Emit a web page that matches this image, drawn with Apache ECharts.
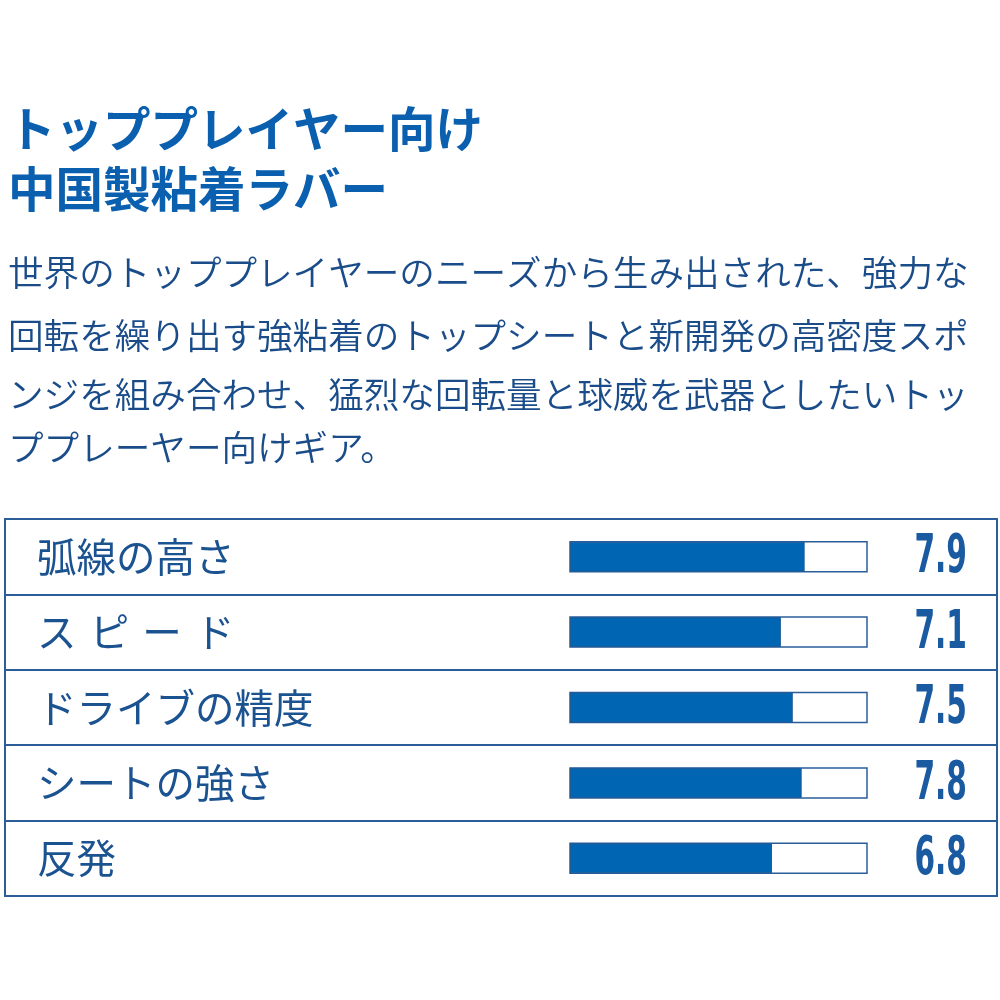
<!DOCTYPE html>
<html>
<head>
<meta charset="utf-8">
<script src="https://cdn.jsdelivr.net/npm/echarts@6/dist/echarts.min.js"></script>
<style>
html,body{margin:0;padding:0;background:#fff;}
#chart{width:1000px;height:1000px;}
</style>
</head>
<body>
<div id="chart"></div>
<script>
// ---- data ----
var titleLines = ['トッププレイヤー向け', '中国製粘着ラバー'];
var descLines = [
  '世界のトッププレイヤーのニーズから生み出された、強力な',
  '回転を繰り出す強粘着のトップシートと新開発の高密度スポ',
  'ンジを組み合わせ、猛烈な回転量と球威を武器としたいトッ',
  'ププレーヤー向けギア。'
];
var categories = ['弧線の高さ', 'ス\u2004ピ\u2004ー\u2004ド', 'ドライブの精度', 'シートの強さ', '反発'];
var values = [7.9, 7.1, 7.5, 7.8, 6.8];
var scaleMax = 10;

// ---- styles ----
var FONT = '"Noto Sans CJK JP", "Noto Sans", sans-serif';
var titleColor = '#0a5fae';
var textColor = '#1a4c8a';
var labelColor = '#1b5290';
var lineColor = '#2b5d99';
var barColor = '#0066b3';

var chart = echarts.init(document.getElementById('chart'), null, {renderer: 'canvas'});

var graphics = [];
var titleY = [133, 193];
titleLines.forEach(function (t, i) {
  graphics.push({
    type: 'text', left: 8, top: titleY[i] - 28,
    style: {text: t, fill: titleColor, font: 'bold 47.5px ' + FONT}
  });
});
var descY = [276, 339, 398, 451];
descLines.forEach(function (t, i) {
  graphics.push({
    type: 'text', left: 8, top: descY[i] - 21,
    style: {text: t, fill: textColor, font: '350 35.6px ' + FONT}
  });
});

var option = {
  backgroundColor: '#fff',
  animation: false,
  graphic: graphics,
  grid: [
    {left: 5, top: 519, width: 992, height: 377, show: true,
     borderColor: lineColor, borderWidth: 2, backgroundColor: 'transparent', containLabel: false},
    {left: 570, top: 519, width: 297, height: 377, containLabel: false}
  ],
  xAxis: [
    {gridIndex: 0, type: 'value', min: 0, max: 1, show: false},
    {gridIndex: 1, type: 'value', min: 0, max: scaleMax, show: false}
  ],
  yAxis: [
    {gridIndex: 0, type: 'category', data: categories, inverse: true,
     axisLine: {show: false}, axisTick: {show: false},
     axisLabel: {inside: true, margin: 32, color: labelColor, fontSize: 39.5, fontFamily: FONT},
     splitLine: {show: true, interval: 0, lineStyle: {color: lineColor, width: 2}}},
    {gridIndex: 1, type: 'category', data: categories, inverse: true, show: false}
  ],
  series: [
    {
      type: 'bar', xAxisIndex: 1, yAxisIndex: 1,
      data: values, barWidth: 30,
      itemStyle: {color: barColor, borderColor: '#1f5a96', borderWidth: 1},
      showBackground: true,
      backgroundStyle: {color: '#fff', borderColor: lineColor, borderWidth: 1.5}
    },
    {
      type: 'custom', xAxisIndex: 0, yAxisIndex: 0,
      data: values.map(function (v, i) { return [1, i]; }),
      renderItem: function (params, api) {
        var p = api.coord([api.value(0), api.value(1)]);
        return {
          type: 'text',
          x: p[0] - 30, y: p[1] + 2,
          scaleX: 0.56,
          style: {
            text: values[params.dataIndex].toFixed(1),
            fill: '#1a5aa0',
            font: 'bold 53px "DejaVu Sans", sans-serif',
            align: 'right', verticalAlign: 'middle',
            textAlign: 'right', textVerticalAlign: 'middle'
          }
        };
      }
    }
  ]
};
chart.setOption(option);
</script>
</body>
</html>
